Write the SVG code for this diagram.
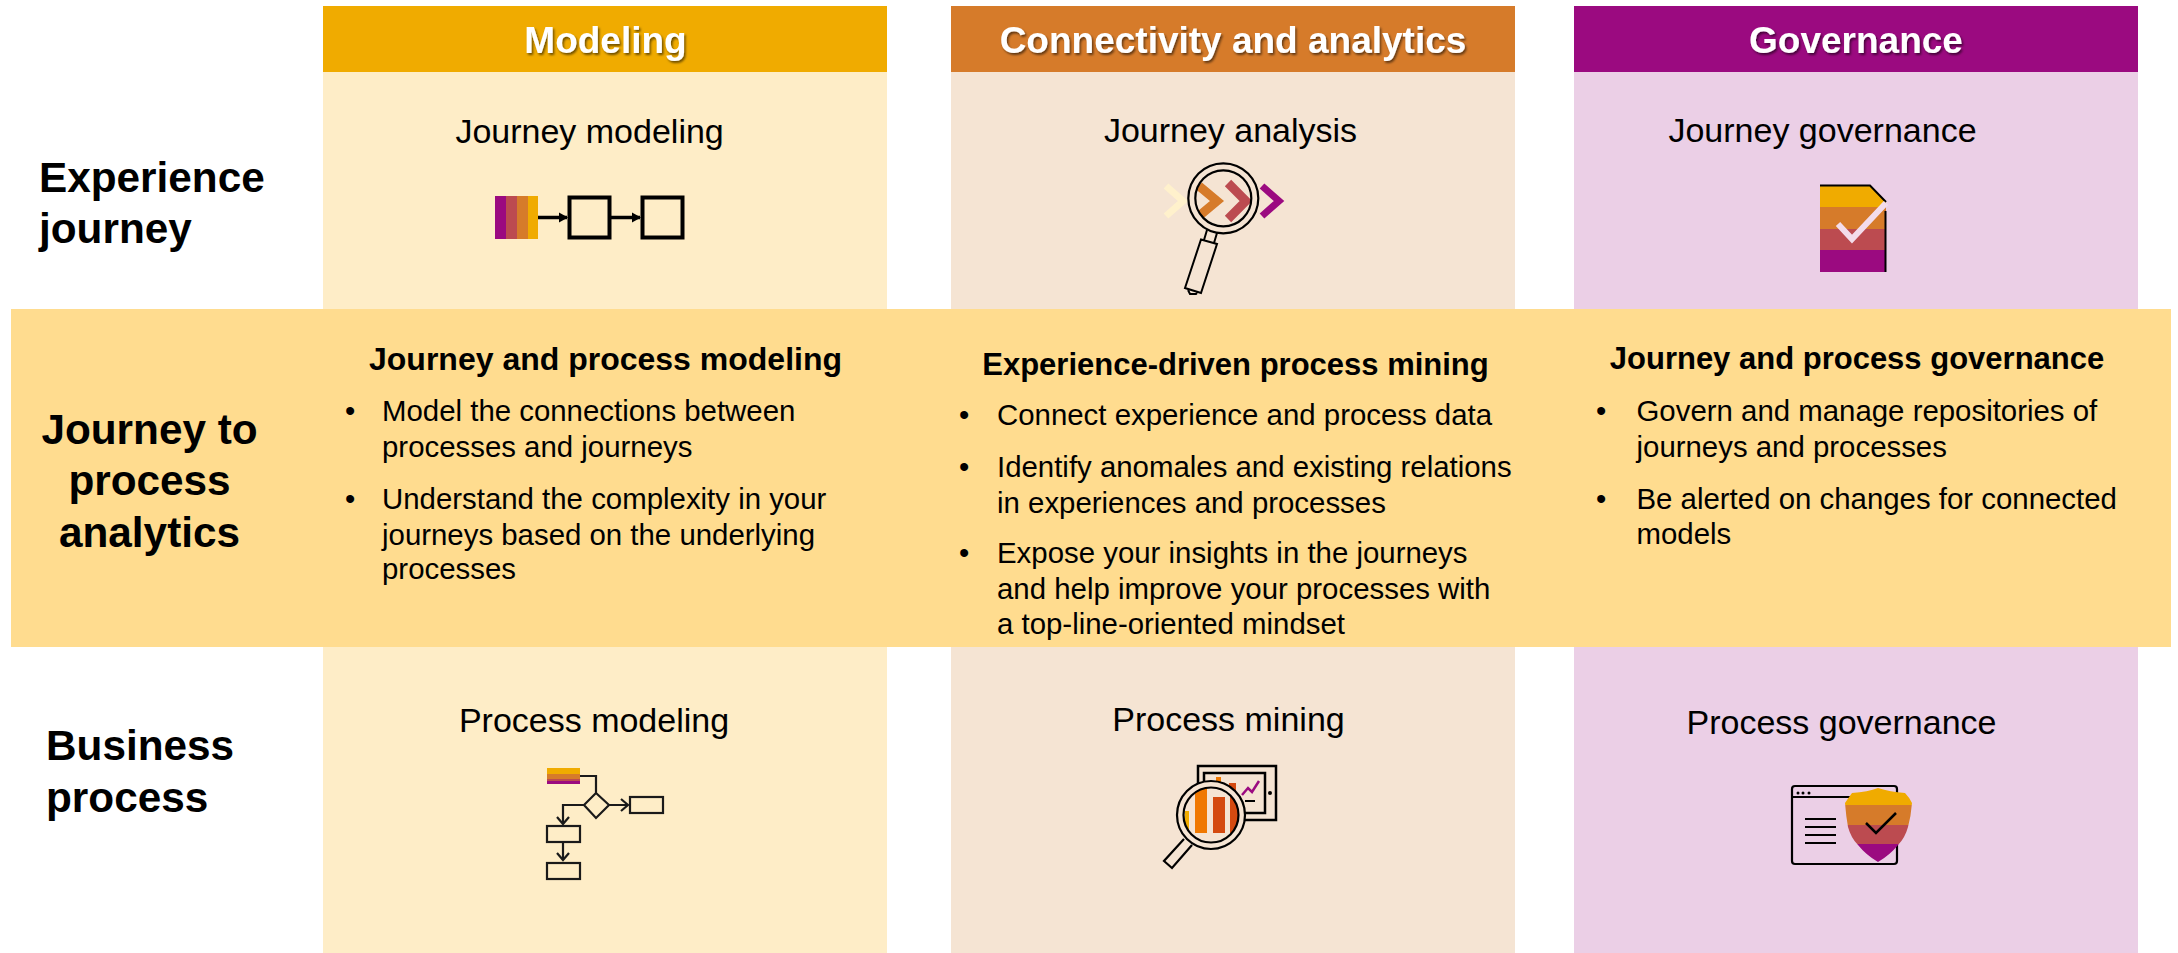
<svg xmlns="http://www.w3.org/2000/svg" width="2178" height="953" viewBox="0 0 2178 953">
<defs>
<style>
text{font-family:"Liberation Sans",Arial,sans-serif;fill:#000}
.hd{font-size:37px;font-weight:700;fill:#fff;text-anchor:middle;filter:url(#sh)}
.row{font-size:42.3px;font-weight:700}
.mid{text-anchor:middle}
.sub{font-size:34px;text-anchor:middle}
.bh{font-size:31px;font-weight:700;text-anchor:middle}
.b{font-size:29.4px}
.l{fill:none;stroke:#000}
.t{fill:none;stroke:#1a1a1a;stroke-width:2.200}
.y{fill:#f0ab00}.o{fill:#d67b2a}.r{fill:#bc4b50}.p{fill:#9b0a80}
</style>
<filter id="sh" x="-10%" y="-20%" width="120%" height="150%"><feDropShadow dx="1.5" dy="2" stdDeviation="1.2" flood-color="#000" flood-opacity=".55"/></filter>
<marker id="ah" markerWidth="10" markerHeight="12" refX="8" refY="6" orient="auto" markerUnits="userSpaceOnUse"><path d="M0 1L9 6L0 11z" fill="#000"/></marker>
<marker id="oa" markerWidth="14" markerHeight="14" refX="10" refY="7" orient="auto" markerUnits="userSpaceOnUse"><path d="M3 1L10 7L3 13" fill="none" stroke="#1a1a1a" stroke-width="2.200"/></marker>
<clipPath id="lens"><circle cx="1223.3" cy="198.3" r="28"/></clipPath>
<clipPath id="doc"><path d="M1820 185H1870L1886 202V272H1820z"/></clipPath>
<clipPath id="lens2"><circle cx="1211" cy="815" r="27.5"/></clipPath>
<clipPath id="shield"><path d="M1845 803Q1849 797 1852 793Q1868 792 1878 788Q1890 792 1905 793Q1909 797 1912 803Q1911 816 1908 827Q1905 838 1898 845Q1890 855 1878 862Q1866 855 1858 845Q1851 838 1848 827Q1846 816 1845 803z"/></clipPath>
</defs>
<g id="col-modeling">
<rect x="323" y="6" width="564" height="66" fill="#f0ab00"/><rect x="323" y="72" width="564" height="881" fill="#feedc7"/>
<text class="hd" x="605.500" y="53">Modeling</text>
</g>
<g id="col-connectivity">
<rect x="951" y="6" width="564" height="66" fill="#d67b2a"/><rect x="951" y="72" width="564" height="881" fill="#f5e4d3"/>
<text class="hd" x="1233" y="53">Connectivity and analytics</text>
</g>
<g id="col-governance">
<rect x="1574" y="6" width="564" height="66" fill="#9b0a80"/><rect x="1574" y="72" width="564" height="881" fill="#ebcfe6"/>
<text class="hd" x="1856" y="53">Governance</text>
</g>
<g id="band"><rect x="11" y="309" width="2160" height="338" fill="#ffdc8f"/></g>
<g id="row-labels">
<text class="row" x="39" y="192">Experience</text><text class="row" x="39" y="243">journey</text>
<text class="row mid" x="149.500" y="444">Journey to</text><text class="row mid" x="149.500" y="495">process</text><text class="row mid" x="149.500" y="547">analytics</text>
<text class="row" x="46" y="760">Business</text><text class="row" x="46" y="812">process</text>
</g>
<g id="journey-modeling">
<text class="sub" x="589.600" y="143">Journey modeling</text>
<rect class="p" x="495" y="196" width="11" height="43"/><rect class="r" x="506" y="196" width="11" height="43"/><rect class="o" x="517" y="196" width="11" height="43"/><rect class="y" x="528" y="196" width="10" height="43"/>
<rect class="l" stroke-width="4" x="569.500" y="197.500" width="40" height="40"/><rect class="l" stroke-width="4" x="642.500" y="197.500" width="40" height="40"/>
<path class="l" stroke-width="3.500" d="M538 217.500H567" marker-end="url(#ah)"/><path class="l" stroke-width="3.500" d="M611 217.500H640" marker-end="url(#ah)"/>
</g>
<g id="journey-analysis">
<text class="sub" x="1230.500" y="142">Journey analysis</text>
<path d="M1166 186L1183 201L1166 216" fill="none" stroke="#fff1cc" stroke-width="7"/>
<g clip-path="url(#lens)"><path d="M1199 186L1217 201L1199 216" fill="none" stroke="#d67b2a" stroke-width="9"/><path d="M1228 183L1246 201L1228 219" fill="none" stroke="#bc4b50" stroke-width="9"/></g>
<path d="M1262 186L1279 201L1262 216" fill="none" stroke="#9b0a80" stroke-width="7"/>
<circle class="l" stroke-width="2.200" cx="1223.300" cy="198.300" r="35"/><circle class="l" stroke-width="2.200" cx="1223.300" cy="198.300" r="28"/>
<path class="l" stroke-width="2" d="M1207 230L1204 240M1217 233L1214 243M1201 239.500L1217 244L1201 293L1185 288zM1188 290L1190 294H1196L1197 293"/>
</g>
<g id="journey-governance">
<text class="sub" x="1822.500" y="142">Journey governance</text>
<g clip-path="url(#doc)"><rect class="y" x="1820" y="185" width="66" height="22"/><rect class="o" x="1820" y="207" width="66" height="22"/><rect class="r" x="1820" y="229" width="66" height="21"/><rect class="p" x="1820" y="250" width="66" height="22"/></g>
<path class="l" stroke-width="2" d="M1820 185.500H1870L1886 202M1885.500 211V272"/>
<path d="M1838 224L1852 239L1886 203" fill="none" stroke="#f3dcea" stroke-width="6"/>
</g>
<g id="body-modeling">
<text class="bh" style="font-size:32px" x="605.500" y="370">Journey and process modeling</text>
<text class="b" x="345" y="421">•</text><text class="b" x="382" y="421">Model the connections between</text><text class="b" x="382" y="457">processes and journeys</text>
<text class="b" x="345" y="509">•</text><text class="b" x="382" y="509">Understand the complexity in your</text><text class="b" x="382" y="545">journeys based on the underlying</text><text class="b" x="382" y="579">processes</text>
</g>
<g id="body-mining">
<text class="bh" x="1235.500" y="375">Experience-driven process mining</text>
<text class="b" x="959" y="425">•</text><text class="b" x="997" y="425">Connect experience and process data</text>
<text class="b" x="959" y="477">•</text><text class="b" x="997" y="477">Identify anomales and existing relations</text><text class="b" x="997" y="513">in experiences and processes</text>
<text class="b" x="959" y="563">•</text><text class="b" x="997" y="563">Expose your insights in the journeys</text><text class="b" x="997" y="599">and help improve your processes with</text><text class="b" x="997" y="634">a top-line-oriented mindset</text>
</g>
<g id="body-governance">
<text class="bh" x="1857" y="369">Journey and process governance</text>
<text class="b" x="1596" y="421">•</text><text class="b" x="1636.500" y="421">Govern and manage repositories of</text><text class="b" x="1636.500" y="457">journeys and processes</text>
<text class="b" x="1596" y="509">•</text><text class="b" x="1636.500" y="509">Be alerted on changes for connected</text><text class="b" x="1636.500" y="544">models</text>
</g>
<g id="process-modeling">
<text class="sub" x="594" y="732">Process modeling</text>
<rect class="y" x="547" y="768" width="33" height="6"/><rect class="o" x="547" y="774" width="33" height="5"/><rect class="r" x="547" y="779" width="33" height="2"/><rect class="p" x="547" y="781" width="33" height="3"/>
<path class="t" d="M580 776H596V793M596 793L609 805L596 818L584 805zM609 805H628" marker-end="url(#oa)"/>
<path class="t" d="M584 805H563V824" marker-end="url(#oa)"/>
<path class="t" d="M563 842V860" marker-end="url(#oa)"/>
<rect class="t" x="630" y="797" width="33" height="16"/><rect class="t" x="547" y="826" width="33" height="16"/><rect class="t" x="547" y="863" width="33" height="16"/>
</g>
<g id="process-mining">
<text class="sub" x="1228.500" y="731">Process mining</text>
<rect class="l" stroke-width="2.500" x="1198" y="766" width="78" height="54"/><rect class="l" stroke-width="2.500" x="1204" y="773" width="61" height="40"/>
<circle cx="1270" cy="793" r="2"/><path d="M1242 795L1248 788L1252 792L1259 781" fill="none" stroke="#9b0a80" stroke-width="2.500"/><path class="l" stroke-width="2" d="M1245 801H1255"/>
<rect x="1216" y="777" width="5" height="12" fill="#f07800"/><rect x="1229" y="783" width="7" height="8" fill="#d44a10"/>
<circle cx="1211" cy="815" r="34" fill="#f5e4d3"/>
<g clip-path="url(#lens2)"><rect x="1185" y="811" width="4" height="22" fill="#f0ab00"/><rect x="1195" y="788" width="12" height="45" fill="#f07800"/><rect x="1213" y="797" width="12" height="36" fill="#d44a10"/><rect x="1230" y="783" width="8" height="50" fill="#d44a10"/></g>
<circle class="l" stroke-width="2.200" cx="1211" cy="815" r="34"/><circle class="l" stroke-width="2.200" cx="1211" cy="815" r="27.500"/>
<path class="l" stroke-width="2.200" d="M1184 839L1164 861L1172 868L1192 845"/>
</g>
<g id="process-governance">
<text class="sub" x="1841.500" y="733.500">Process governance</text>
<rect class="l" stroke-width="2.200" x="1792" y="786" width="105" height="78" rx="3"/><path class="l" stroke-width="2.200" d="M1792 797H1897"/>
<circle cx="1798" cy="793" r="1.500"/><circle cx="1803" cy="793" r="1.500"/><circle cx="1809" cy="793" r="1.500"/>
<path class="l" stroke-width="2" d="M1805 819H1836M1805 827H1836M1805 835H1836M1805 843H1836"/>
<g clip-path="url(#shield)"><rect class="y" x="1840" y="785" width="80" height="20"/><rect class="o" x="1840" y="805" width="80" height="20"/><rect class="r" x="1840" y="825" width="80" height="19"/><rect class="p" x="1840" y="844" width="80" height="20"/></g>
<path class="l" stroke-width="2.500" d="M1866 823L1876 833L1896 813"/>
</g>
</svg>
